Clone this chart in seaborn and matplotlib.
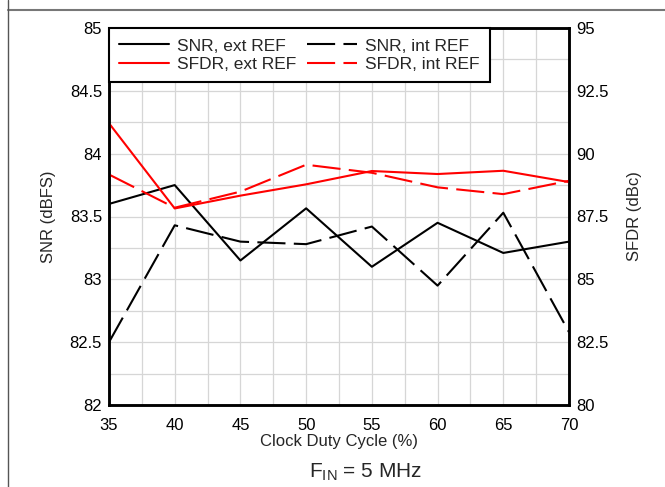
import matplotlib
matplotlib.use("Agg")
import matplotlib.pyplot as plt
import seaborn as sns
import numpy as np
import pandas as pd
from matplotlib.lines import Line2D

duty = [35, 40, 45, 50, 55, 60, 65, 70]
snr_ext = [83.60, 83.75, 83.15, 83.565, 83.10, 83.45, 83.21, 83.30]
snr_int = [82.50, 83.43, 83.30, 83.28, 83.42, 82.95, 83.53, 82.58]
sfdr_ext = [91.21, 87.82, 88.33, 88.78, 89.31, 89.19, 89.32, 88.87]
sfdr_int = [89.17, 87.85, 88.49, 89.56, 89.24, 88.66, 88.39, 88.92]

x_ticks = [35, 40, 45, 50, 55, 60, 65, 70]
snr_ticks = [82, 82.5, 83, 83.5, 84, 84.5, 85]
snr_labels = ["82", "82.5", "83", "83.5", "84", "84.5", "85"]
sfdr_ticks = [80, 82.5, 85, 87.5, 90, 92.5, 95]
sfdr_labels = ["80", "82.5", "85", "87.5", "90", "92.5", "95"]
legend_labels = ["SNR, ext REF", "SFDR, ext REF", "SNR, int REF", "SFDR, int REF"]

sns.set_style("white")
plt.rcParams['font.family'] = ['Liberation Sans', 'DejaVu Sans']
plt.rcParams['mathtext.fontset'] = 'custom'
plt.rcParams['mathtext.rm'] = 'Liberation Sans'

fig = plt.figure(figsize=(6.65, 4.87), dpi=100)
ax = fig.add_axes([109/665, 1-405/487, 460/665, 377/487])
ax2 = ax.twinx()

df = pd.DataFrame({"duty": duty, "snr_ext": snr_ext, "snr_int": snr_int,
                   "sfdr_ext": sfdr_ext, "sfdr_int": sfdr_int})
dash = (0, (13.5, 4))
lw = 1.5
sns.lineplot(data=df, x="duty", y="snr_ext", ax=ax, color="black", linewidth=lw)
sns.lineplot(data=df, x="duty", y="snr_int", ax=ax, color="black", linewidth=lw, linestyle=dash)
sns.lineplot(data=df, x="duty", y="sfdr_ext", ax=ax2, color="red", linewidth=lw)
sns.lineplot(data=df, x="duty", y="sfdr_int", ax=ax2, color="red", linewidth=lw, linestyle=dash)

ax.set_ylim(82, 85)
ax2.set_ylim(80, 95)
ax.set_xlim(35, 70)

ax.set_xticks(x_ticks)
ax.set_xticks(np.arange(35, 70.01, 2.5), minor=True)
ax.set_yticks(snr_ticks)
ax.set_yticklabels(snr_labels)
ax.set_yticks(np.arange(82, 85.01, 0.25), minor=True)
ax.grid(True, which="both", color="#d6d6d6", linewidth=0.9)
ax.set_axisbelow(True)

ax2.set_yticks(sfdr_ticks)
ax2.set_yticklabels(sfdr_labels)

ax.tick_params(axis="x", which="both", length=0, labelsize=12, pad=9, colors="black")
ax.tick_params(axis="y", which="both", length=0, labelsize=12, pad=5, colors="black")
ax2.tick_params(axis="y", which="both", length=0, labelsize=12, pad=5, colors="black")
ax.set_xlabel("Clock Duty Cycle (%)", fontsize=12, labelpad=1)
ax.set_ylabel("SNR (dBFS)", fontsize=12, labelpad=10)
ax2.set_ylabel("SFDR (dBc)", fontsize=12, labelpad=13)
ax2.set_xlabel("")

for a in (ax, ax2):
    for s in a.spines.values():
        s.set_visible(True)
        s.set_color("black")
        s.set_linewidth(1.8)

handles = [
    Line2D([], [], color="black", lw=lw),
    Line2D([], [], color="red", lw=lw),
    Line2D([], [], color="black", lw=lw, linestyle=dash),
    Line2D([], [], color="red", lw=lw, linestyle=dash),
]
leg = ax2.legend(handles, legend_labels, ncol=2, loc="upper left", bbox_to_anchor=(0, 1),
                 borderaxespad=0, fontsize=12.5, frameon=True, fancybox=False,
                 handlelength=2.87, handletextpad=0.46, columnspacing=0.6,
                 labelspacing=0.18, borderpad=0.6)
leg.get_frame().set_edgecolor("black")
leg.get_frame().set_linewidth(1.5)
leg.get_frame().set_facecolor("white")
leg.get_frame().set_alpha(1)
leg.set_zorder(10)

fig.text(366/665, 1-472/487, r"F$_{\mathregular{IN}}$ = 5 MHz", ha="center", va="center", fontsize=15)

# page frame lines
fig.add_artist(Line2D([8/665, 1], [1-10/487, 1-10/487], color="#777777", lw=1.5))
fig.add_artist(Line2D([8/665, 8/665], [0, 1], color="#555555", lw=1.0))

fig.savefig("out.png", dpi=100)
